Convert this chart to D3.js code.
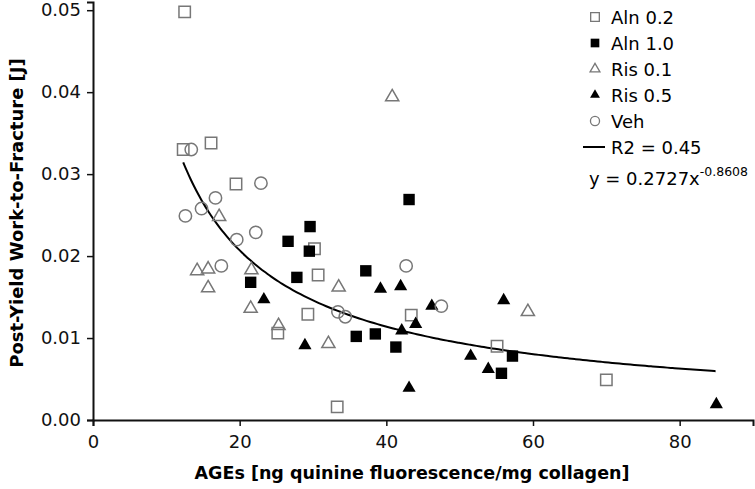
<!DOCTYPE html>
<html>
<head>
<meta charset="utf-8">
<script src="https://cdn.jsdelivr.net/npm/d3@7"></script>
<style>
body { margin: 0; background: #fff; }
text { font-family: "DejaVu Sans", Verdana, sans-serif; }
</style>
</head>
<body>
<svg id="chart" width="755" height="489"></svg>
<script>
// values: [AGEs, work-to-fracture]
var aln02 = [[12.5,0.0498],[12.3,0.0330],[16.1,0.0338],[19.5,0.0288],[25.2,0.0106],[30.2,0.0209],
    [30.7,0.0177],[29.3,0.0129],[43.4,0.0128],[33.3,0.0016],[55.1,0.0090],[70.0,0.0049]];
var aln10 = [[21.5,0.0168],[26.6,0.0218],[27.8,0.0174],[29.6,0.0236],[29.5,0.0206],[43.1,0.0269],
    [37.2,0.0182],[35.9,0.0102],[38.5,0.0105],[41.3,0.0089],[57.2,0.0078],[55.7,0.0057]];
var ris01 = [[17.2,0.0248],[14.2,0.0182],[15.7,0.0184],[15.7,0.0161],[21.6,0.0183],[21.5,0.0136],
    [25.3,0.0115],[33.5,0.0162],[32.1,0.0093],[40.8,0.0394],[59.3,0.0132]];
var ris05 = [[23.3,0.0147],[28.9,0.0091],[39.2,0.0160],[41.95,0.0163],[46.2,0.0139],[44.0,0.0117],
    [42.1,0.0109],[43.1,0.0039],[51.5,0.0078],[53.9,0.0062],[56.0,0.0146],[85.0,0.0019]];
var veh = [[13.4,0.0330],[22.9,0.0289],[16.7,0.0271],[14.8,0.0258],[12.6,0.0249],[19.6,0.0220],
    [22.2,0.0229],[17.5,0.0188],[42.7,0.0188],[33.4,0.0132],[34.4,0.0126],[47.5,0.0139]];

var seriesNames = ["Aln 0.2", "Aln 1.0", "Ris 0.1", "Ris 0.5", "Veh"];
var xTicks = [0, 20, 40, 60, 80];
var yTicks = [0, 0.01, 0.02, 0.03, 0.04, 0.05];
var fitA = 0.2727, fitB = -0.8608, fitR2 = 0.45;
var fitRange = [12.3, 84.9];

var svg = d3.select("#chart");
var x = d3.scaleLinear().domain([0, 90]).range([93, 753]);
var y = d3.scaleLinear().domain([0, 0.051]).range([420, 2]);

var groups = [
    {name: seriesNames[0], data: aln02, shape: d3.symbolSquare, fill: "none", stroke: "#777"},
    {name: seriesNames[1], data: aln10, shape: d3.symbolSquare, fill: "#000", stroke: "#000"},
    {name: seriesNames[2], data: ris01, shape: d3.symbolTriangle, fill: "none", stroke: "#777"},
    {name: seriesNames[3], data: ris05, shape: d3.symbolTriangle, fill: "#000", stroke: "#000"},
    {name: seriesNames[4], data: veh, shape: d3.symbolCircle, fill: "none", stroke: "#777"}
];

function symbolSize(shape, big) {
    if (shape === d3.symbolSquare) return big ? 130 : 75;
    if (shape === d3.symbolTriangle) return big ? 75 : 42;
    return big ? 120 : 65;
}

// axes
var xAxis = svg.append("g").attr("transform", "translate(0,420)")
    .call(d3.axisBottom(x).tickValues(xTicks).tickSize(6).tickPadding(9));
var yAxis = svg.append("g").attr("transform", "translate(93,0)")
    .call(d3.axisLeft(y).tickValues(yTicks).tickSize(6).tickPadding(6).tickFormat(d3.format(".2f")));
[xAxis, yAxis].forEach(function (ax) {
    ax.select(".domain").attr("stroke", "#111").attr("stroke-width", 2);
    ax.selectAll(".tick line").attr("stroke", "#111").attr("stroke-width", 1.5);
    ax.selectAll(".tick text").attr("fill", "#111").style("font-size", "18px");
});

svg.append("text")
    .attr("x", 412).attr("y", 479)
    .attr("text-anchor", "middle")
    .style("font-size", "17.5px").style("font-weight", "bold")
    .text("AGEs [ng quinine fluorescence/mg collagen]");

svg.append("text")
    .attr("transform", "translate(23,213) rotate(-90)")
    .attr("text-anchor", "middle")
    .style("font-size", "18px").style("font-weight", "bold")
    .text("Post-Yield Work-to-Fracture [J]");

// fitted power curve
var curveX = d3.range(fitRange[0], fitRange[1], 0.5).concat([fitRange[1]]);
var line = d3.line()
    .x(function (d) { return x(d); })
    .y(function (d) { return y(fitA * Math.pow(d, fitB)); })
    .curve(d3.curveBasis);
svg.append("path")
    .attr("d", line(curveX))
    .attr("fill", "none").attr("stroke", "#000").attr("stroke-width", 2);

// points
groups.forEach(function (g) {
    var sym = d3.symbol().type(g.shape).size(symbolSize(g.shape, true));
    svg.append("g").selectAll("path")
        .data(g.data)
        .enter().append("path")
        .attr("transform", function (d) { return "translate(" + x(d[0]) + "," + y(d[1]) + ")"; })
        .attr("d", sym)
        .attr("fill", g.fill)
        .attr("stroke", g.stroke)
        .attr("stroke-width", g.fill === "none" ? 1.5 : 0);
});

// legend
var legend = svg.append("g").attr("transform", "translate(595,17)");
var rows = legend.selectAll("g").data(groups).enter().append("g")
    .attr("transform", function (d, i) { return "translate(0," + (i * 26) + ")"; });
rows.append("path")
    .attr("d", function (d) { return d3.symbol().type(d.shape).size(symbolSize(d.shape, false))(); })
    .attr("fill", function (d) { return d.fill; })
    .attr("stroke", function (d) { return d.stroke; })
    .attr("stroke-width", function (d) { return d.fill === "none" ? 1.3 : 0; });
rows.append("text")
    .attr("x", 16).attr("y", 6.5)
    .style("font-size", "18px")
    .text(function (d) { return d.name; });

legend.append("line")
    .attr("x1", -12).attr("x2", 10).attr("y1", 130).attr("y2", 130)
    .attr("stroke", "#000").attr("stroke-width", 2);
legend.append("text")
    .attr("x", 16).attr("y", 137)
    .style("font-size", "18px")
    .text("R2 = " + fitR2);

var eq = legend.append("text")
    .attr("x", 153).attr("y", 168)
    .attr("text-anchor", "end")
    .style("font-size", "18px");
eq.append("tspan").text("y = " + fitA + "x");
eq.append("tspan").attr("dy", -9).style("font-size", "12.5px").text(fitB);
</script>
</body>
</html>
